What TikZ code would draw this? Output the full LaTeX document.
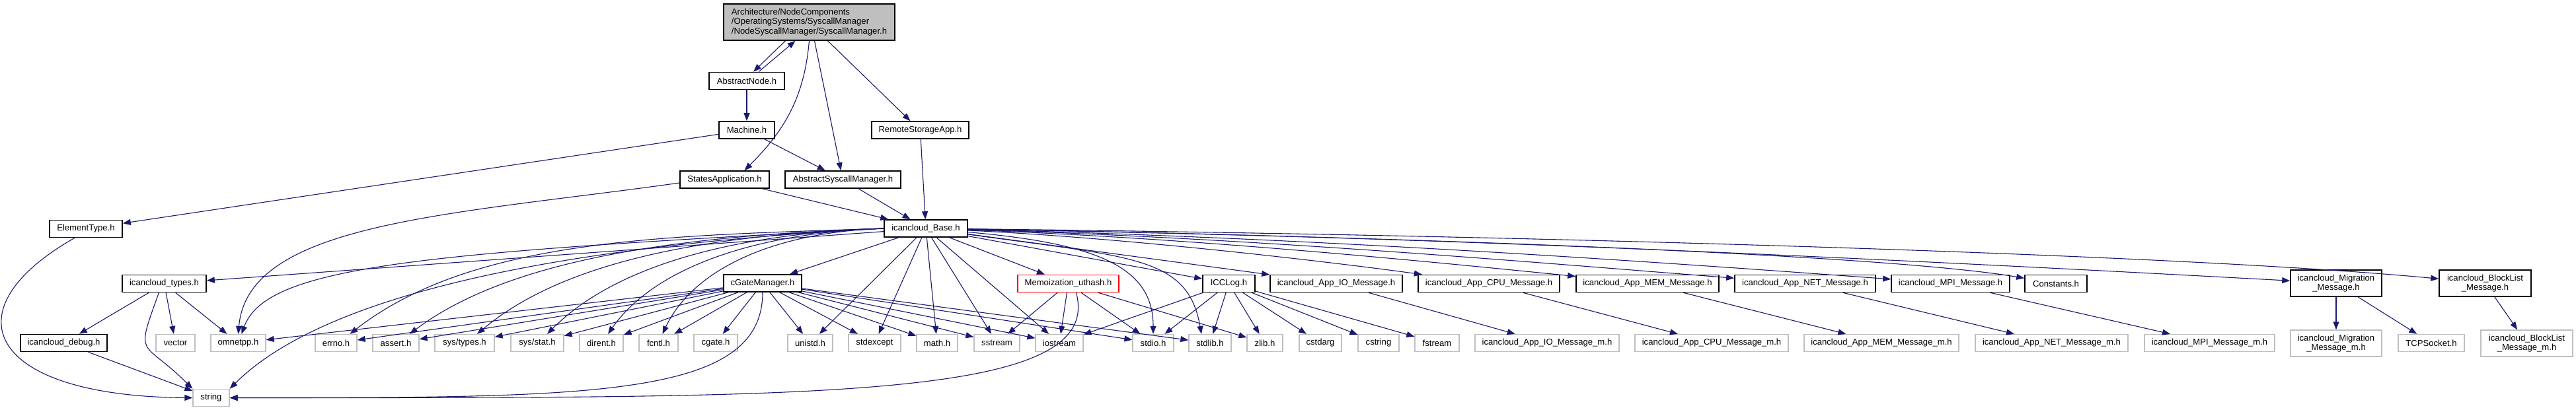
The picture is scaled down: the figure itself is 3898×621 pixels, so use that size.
\documentclass[tikz,border=0pt]{standalone}
\usepackage{fontspec}
\setmainfont{Liberation Sans}
\usetikzlibrary{arrows.meta}
\definecolor{edgeblue}{HTML}{191970}
\definecolor{boxgray}{HTML}{BFBFBF}
\begin{document}
\begin{tikzpicture}[x=1pt, y=1pt,
	hfile/.style={draw=black, line width=1.6pt, fill=white, inner sep=0pt, minimum height=26pt, font=\fontsize{13.1pt}{14.5pt}\selectfont},
	sfile/.style={hfile, draw=boxgray, line width=1.3pt},
	dep/.style={edgeblue, line width=1.1pt, -{Triangle[length=12pt, width=9pt]}}]
	\useasboundingbox (0,0) rectangle (3898,-621);
	% 1. File goc (o xam phia tren)
	\node[hfile, fill=boxgray, minimum width=259pt, minimum height=55pt, align=left] (sm) at (1224.5,-33.5) {Architecture/NodeComponents\\/OperatingSystems/SyscallManager\\/NodeSyscallManager/SyscallManager.h};
	
	% 2. Cac header trung gian
	\node[hfile, minimum width=114pt] (an) at (1130,-122.5) {AbstractNode.h};
	\node[hfile, minimum width=84pt] (mach) at (1130,-197) {Machine.h};
	\node[hfile, minimum width=147pt] (rsa) at (1392.5,-197) {RemoteStorageApp.h};
	\node[hfile, minimum width=135pt] (sa) at (1096.5,-272) {StatesApplication.h};
	\node[hfile, minimum width=175pt] (absm) at (1275.5,-272) {AbstractSyscallManager.h};
	\node[hfile, minimum width=126pt] (base) at (1401,-346) {icancloud\_Base.h};
	\node[hfile, minimum width=110pt] (et) at (130,-346.5) {ElementType.h};
	
	% 3. Hang giua
	\node[hfile, minimum width=127pt] (types) at (248.5,-429.5) {icancloud\_types.h};
	\node[hfile, minimum width=118pt] (cgm) at (1154,-429) {cGateManager.h};
	\node[hfile, draw=red, minimum width=153pt] (memo) at (1616.5,-429.5) {Memoization\_uthash.h};
	\node[hfile, minimum width=79pt] (icclog) at (1859.5,-429.5) {ICCLog.h};
	\node[hfile, minimum width=200pt] (iomsg) at (2022,-429.5) {icancloud\_App\_IO\_Message.h};
	\node[hfile, minimum width=214pt] (cpumsg) at (2253,-429.5) {icancloud\_App\_CPU\_Message.h};
	\node[hfile, minimum width=216pt] (memmsg) at (2493,-429.5) {icancloud\_App\_MEM\_Message.h};
	\node[hfile, minimum width=213pt] (netmsg) at (2731.5,-429.5) {icancloud\_App\_NET\_Message.h};
	\node[hfile, minimum width=179pt] (mpimsg) at (2951.5,-429.5) {icancloud\_MPI\_Message.h};
	\node[hfile, minimum width=94pt] (consts) at (3111,-429.5) {Constants.h};
	\node[hfile, minimum width=138pt, minimum height=40pt, align=center] (migr) at (3535,-429) {icancloud\_Migration\\\_Message.h};
	\node[hfile, minimum width=139pt, minimum height=40pt, align=center] (block) at (3760.5,-429) {icancloud\_BlockList\\\_Message.h};
	
	% 4. Hang duoi (header he thong, vien xam)
	\node[hfile, minimum width=131pt] (debug) at (96.5,-519.5) {icancloud\_debug.h};
	\node[sfile, minimum width=59pt] (vector) at (265.5,-519.5) {vector};
	\node[sfile, minimum width=83pt] (omnetpp) at (360.5,-519.5) {omnetpp.h};
	\node[sfile, minimum width=63pt] (errno) at (508.5,-519.5) {errno.h};
	\node[sfile, minimum width=70pt] (assert) at (599,-519.5) {assert.h};
	\node[sfile, minimum width=90pt] (systypes) at (703,-519.5) {sys/types.h};
	\node[sfile, minimum width=80pt] (sysstat) at (813,-519.5) {sys/stat.h};
	\node[sfile, minimum width=66pt] (dirent) at (910,-519.5) {dirent.h};
	\node[sfile, minimum width=59pt] (fcntl) at (996.5,-519.5) {fcntl.h};
	\node[sfile, minimum width=66pt] (cgate) at (1083,-519.5) {cgate.h};
	\node[sfile, minimum width=68pt] (unistd) at (1226,-519.5) {unistd.h};
	\node[sfile, minimum width=79pt] (stdexcept) at (1323.5,-519.5) {stdexcept};
	\node[sfile, minimum width=62pt] (math) at (1418,-519.5) {math.h};
	\node[sfile, minimum width=69pt] (sstream) at (1508.5,-519.5) {sstream};
	\node[sfile, minimum width=72pt] (iostream) at (1603,-519.5) {iostream};
	\node[sfile, minimum width=62pt] (stdio) at (1745,-519.5) {stdio.h};
	\node[sfile, minimum width=64pt] (stdlib) at (1831,-519.5) {stdlib.h};
	\node[sfile, minimum width=54pt] (zlib) at (1914,-519.5) {zlib.h};
	\node[sfile, minimum width=64pt] (cstdarg) at (1998,-519.5) {cstdarg};
	\node[sfile, minimum width=62pt] (cstring) at (2086,-519.5) {cstring};
	\node[sfile, minimum width=67pt] (fstream) at (2174.5,-519.5) {fstream};
	\node[sfile, minimum width=218pt] (iom) at (2341,-519.5) {icancloud\_App\_IO\_Message\_m.h};
	\node[sfile, minimum width=232pt] (cpum) at (2590,-519.5) {icancloud\_App\_CPU\_Message\_m.h};
	\node[sfile, minimum width=234pt] (memm) at (2847,-519.5) {icancloud\_App\_MEM\_Message\_m.h};
	\node[sfile, minimum width=231pt] (netm) at (3104.5,-519.5) {icancloud\_App\_NET\_Message\_m.h};
	\node[sfile, minimum width=197pt] (mpim) at (3343.5,-519.5) {icancloud\_MPI\_Message\_m.h};
	\node[sfile, minimum width=138pt, minimum height=40pt, align=center] (migrm) at (3535,-520) {icancloud\_Migration\\\_Message\_m.h};
	\node[sfile, minimum width=100pt] (tcp) at (3679,-519.5) {TCPSocket.h};
	\node[sfile, minimum width=139pt, minimum height=40pt, align=center] (blockm) at (3823.5,-520) {icancloud\_BlockList\\\_Message\_m.h};
	\node[sfile, minimum width=55pt] (string) at (319.5,-602.5) {string};
	
	% 5. Mui ten tu file goc
	\draw[dep] ([xshift=-36pt]sm.south) -- ([xshift=10pt]an.north);
	\draw[dep] ([xshift=18pt]an.north) -- ([xshift=-21pt]sm.south);
	\draw[dep] (sm.south) to[out=-95, in=45] ([xshift=30pt]sa.north);
	\draw[dep] ([xshift=8pt]sm.south) -- ([xshift=-3pt]absm.north);
	\draw[dep] ([xshift=28pt]sm.south) -- ([xshift=-15pt]rsa.north);
	\draw[dep] (an) -- (mach);
	\draw[dep] (mach) -- (et);
	\draw[dep] (mach) -- (absm);
	\draw[dep] ([yshift=-5pt]sa.west) to[out=188, in=85, out distance=350pt, in distance=170pt] (omnetpp.north);
	\draw[dep] (sa) -- (base);
	\draw[dep] (absm) -- (base);
	\draw[dep] (rsa) -- (base);
	\draw[dep] ([xshift=-17pt]et.south) .. controls (-80,-470) and (-20,-600) .. (string.west);
	
	% 6. icancloud_types va icancloud_debug
	\draw[dep] (types) -- (debug);
	\draw[dep] (types) -- (vector);
	\draw[dep] (types) -- (omnetpp);
	\draw[dep] ([xshift=-8pt]types.south) to[out=-110, in=135, looseness=1.8] (string.north west);
	\draw[dep] (debug) -- (string);
	
	% 7. icancloud_Base sang trai (cong)
	\draw[dep] (base) -- (types);
	\draw[dep] (base.west) to[out=183, in=70, out distance=700pt, in distance=110pt] ([xshift=5pt]omnetpp.north);
	\draw[dep] (base.west) to[out=182, in=38, out distance=320pt, in distance=240pt] ([xshift=21pt]errno.north);
	\draw[dep] (base.west) to[out=182, in=37, out distance=280pt, in distance=200pt] ([xshift=21pt]assert.north);
	\draw[dep] (base.west) to[out=182, in=40, out distance=250pt, in distance=180pt] ([xshift=19pt]systypes.north);
	\draw[dep] (base.west) to[out=182, in=45, out distance=220pt, in distance=150pt] ([xshift=15pt]sysstat.north);
	\draw[dep] (base.west) to[out=182, in=55, out distance=200pt, in distance=120pt] ([xshift=10pt]dirent.north);
	\draw[dep] (base.west) to[out=182, in=65, out distance=180pt, in distance=100pt] ([xshift=6pt]fcntl.north);
	\draw[dep] (base.west) to[out=183, in=45, out distance=500pt, in distance=200pt] (string.north east);
	
	% 8. icancloud_Base xuong duoi va sang phai
	\draw[dep] (base) -- (cgm);
	\draw[dep] (base) -- (unistd);
	\draw[dep] (base) -- (stdexcept);
	\draw[dep] (base) -- (math);
	\draw[dep] (base) -- (sstream);
	\draw[dep] (base) -- (iostream);
	\draw[dep] (base) -- (memo);
	\draw[dep] (base) to[out=-5, in=90, out distance=200pt, in distance=100pt] (stdio.north);
	\draw[dep] (base) to[out=-8, in=100, out distance=250pt, in distance=120pt] ([xshift=-13pt]stdlib.north);
	\draw[dep] (base) -- (icclog);
	\draw[dep] (base) -- (iomsg);
	\draw[dep] (base) .. controls (1700,-360) and (2000,-395) .. (cpumsg);
	\draw[dep] (base) .. controls (1800,-360) and (2150,-395) .. (memmsg);
	\draw[dep] (base) .. controls (1900,-360) and (2350,-400) .. (netmsg);
	\draw[dep] (base) .. controls (2000,-360) and (2550,-400) .. (mpimsg);
	\draw[dep] (base) .. controls (2100,-358) and (2850,-385) .. (consts);
	\draw[dep] (base) .. controls (2200,-358) and (3000,-400) .. (migr);
	\draw[dep] (base) .. controls (2300,-356) and (3300,-385) .. (block);
	
	% 9. cGateManager
	\draw[dep] (cgm) -- (omnetpp);
	\draw[dep] (cgm) -- (errno);
	\draw[dep] (cgm) -- (assert);
	\draw[dep] (cgm) -- (systypes);
	\draw[dep] (cgm) -- (sysstat);
	\draw[dep] (cgm) -- (dirent);
	\draw[dep] (cgm) -- (fcntl);
	\draw[dep] (cgm) -- (cgate);
	\draw[dep] (cgm.south) to[out=-90, in=0, out distance=160pt, in distance=550pt] (string.east);
	\draw[dep] (cgm) -- (unistd);
	\draw[dep] (cgm) -- (stdexcept);
	\draw[dep] (cgm) -- (math);
	\draw[dep] (cgm) -- (sstream);
	\draw[dep] (cgm) -- (iostream);
	\draw[dep] (cgm) -- (stdio);
	\draw[dep] (cgm) -- (stdlib);
	
	% 10. Memoization_uthash (o vien do)
	\draw[dep] (memo) -- (sstream);
	\draw[dep] (memo) -- (iostream);
	\draw[dep] ([xshift=12pt]memo.south) .. controls (1672.5,-606) and (1247,-602.5) .. (string.east);
	\draw[dep] (memo) -- (stdio);
	\draw[dep] (memo) -- (zlib);
	
	% 11. ICCLog
	\draw[dep] (icclog) -- (iostream);
	\draw[dep] (icclog) -- (stdio);
	\draw[dep] (icclog) -- (stdlib);
	\draw[dep] (icclog) -- (zlib);
	\draw[dep] (icclog) -- (cstdarg);
	\draw[dep] (icclog) -- (cstring);
	\draw[dep] (icclog) -- (fstream);
	
	% 12. Cac message va file _m tuong ung
	\draw[dep] (iomsg) -- (iom);
	\draw[dep] (cpumsg) -- (cpum);
	\draw[dep] (memmsg) -- (memm);
	\draw[dep] (netmsg) -- (netm);
	\draw[dep] (mpimsg) -- (mpim);
	\draw[dep] (migr) -- (migrm);
	\draw[dep] (migr) -- (tcp);
	\draw[dep] (block) -- (blockm);
\end{tikzpicture}
\end{document}
